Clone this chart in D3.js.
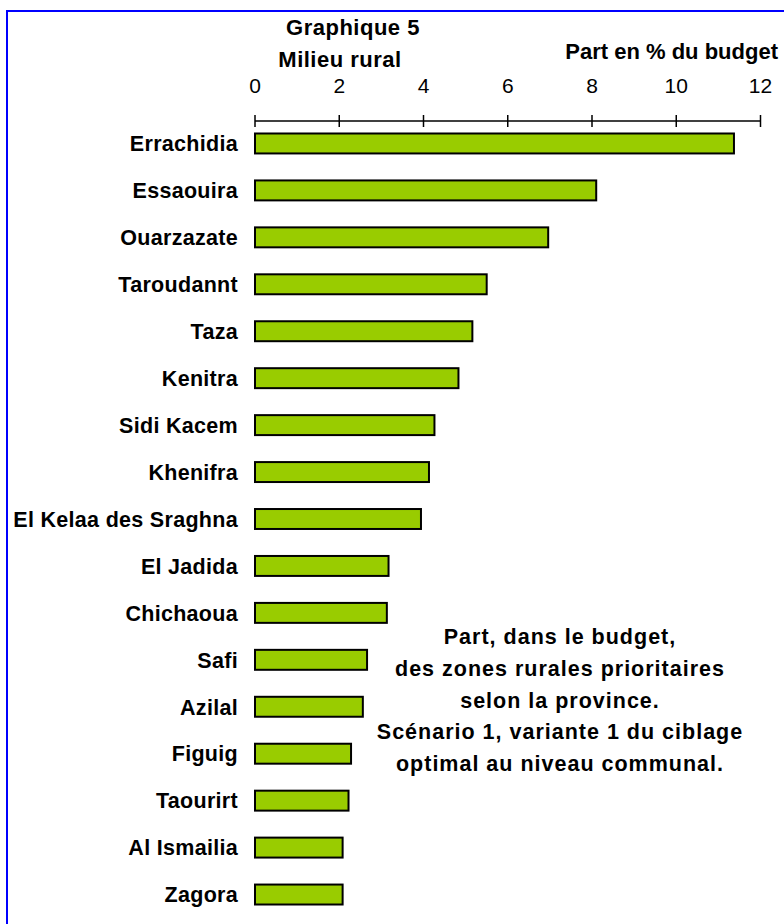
<!DOCTYPE html>
<html>
<head>
<meta charset="utf-8">
<script src="https://cdn.jsdelivr.net/npm/d3@7"></script>
<style>
  body { margin: 0; background: #fff; }
  text { font-family: "Liberation Sans", Arial, sans-serif; fill: #000; }
</style>
</head>
<body>
<div id="chart"></div>
<script>
// provinces, top to bottom
const provinces = ["Errachidia", "Essaouira", "Ouarzazate", "Taroudannt", "Taza", "Kenitra",
  "Sidi Kacem", "Khenifra", "El Kelaa des Sraghna", "El Jadida", "Chichaoua", "Safi",
  "Azilal", "Figuig", "Taourirt", "Al Ismailia", "Zagora"];
// part en % du budget
const shares = [11.37, 8.1, 6.96, 5.5, 5.16, 4.83, 4.26, 4.13, 3.94, 3.17, 3.13, 2.66,
  2.56, 2.28, 2.22, 2.08, 2.08];
const tickValues = [0, 2, 4, 6, 8, 10, 12];
const noteLines = ["Part, dans le budget,", "des zones rurales prioritaires",
  "selon la province.", "Scénario 1, variante 1 du ciblage", "optimal au niveau communal."];

const width = 784, height = 924;

const svg = d3.select("#chart").append("svg")
  .attr("width", width)
  .attr("height", height);

// blue frame (runs off the right and bottom edges)
svg.append("rect")
  .attr("x", 7).attr("y", 11)
  .attr("width", 820).attr("height", 940)
  .attr("fill", "none")
  .attr("stroke", "#0000ff")
  .attr("stroke-width", 2);

const x = d3.scaleLinear().domain([0, 12]).range([255, 760.5]);
const y = d3.scaleBand().domain(provinces).range([120, 918])
  .paddingInner(0.575).paddingOuter(0.2875);

const axisY = 121;

// axis line + ticks on both sides
const ax = svg.append("g");
ax.append("line")
  .attr("x1", x(0)).attr("x2", x(12))
  .attr("y1", axisY).attr("y2", axisY)
  .attr("stroke", "#000").attr("stroke-width", 1.5);
ax.selectAll(".tick")
  .data(tickValues)
  .enter()
  .append("line")
  .attr("x1", (d) => x(d)).attr("x2", (d) => x(d))
  .attr("y1", axisY - 6).attr("y2", axisY + 6)
  .attr("stroke", "#000").attr("stroke-width", 1.5);
ax.selectAll(".lbl")
  .data(tickValues)
  .enter()
  .append("text")
  .attr("x", (d) => x(d))
  .attr("y", 93)
  .attr("text-anchor", "middle")
  .style("font-size", "21px")
  .text((d) => d);

// bars
svg.selectAll(".bar")
  .data(provinces)
  .enter()
  .append("rect")
  .attr("x", x(0))
  .attr("y", (d) => y(d))
  .attr("width", (d, i) => x(shares[i]) - x(0))
  .attr("height", y.bandwidth())
  .attr("fill", "#99cc00")
  .attr("stroke", "#000")
  .attr("stroke-width", 2);

// category labels
svg.selectAll(".cat")
  .data(provinces)
  .enter()
  .append("text")
  .attr("x", 238)
  .attr("y", (d) => y(d) + y.bandwidth() / 2)
  .attr("dy", "0.36em")
  .attr("text-anchor", "end")
  .style("font-size", "21.5px")
  .style("font-weight", "bold")
  .style("letter-spacing", "0.3px")
  .text((d) => d);

// titles
svg.append("text")
  .attr("x", 353).attr("y", 35)
  .attr("text-anchor", "middle")
  .style("font-size", "22px").style("font-weight", "bold")
  .style("letter-spacing", "0.5px")
  .text("Graphique 5");
svg.append("text")
  .attr("x", 340).attr("y", 67)
  .attr("text-anchor", "middle")
  .style("font-size", "22px").style("font-weight", "bold")
  .style("letter-spacing", "0.5px")
  .text("Milieu rural");
svg.append("text")
  .attr("x", 778).attr("y", 59)
  .attr("text-anchor", "end")
  .style("font-size", "22px").style("font-weight", "bold")
  .text("Part en % du budget");

// note
svg.selectAll(".note")
  .data(noteLines)
  .enter()
  .append("text")
  .attr("x", 560)
  .attr("y", (d, i) => 644 + i * 31.8)
  .attr("text-anchor", "middle")
  .style("font-size", "21.5px")
  .style("font-weight", "bold")
  .style("letter-spacing", "1px")
  .text((d) => d);
</script>
</body>
</html>
